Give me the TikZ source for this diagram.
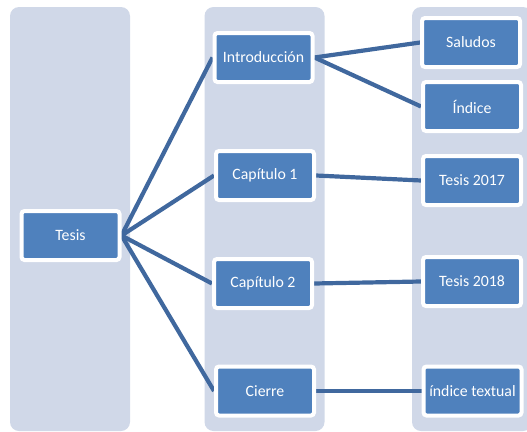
\documentclass[tikz,border=0pt]{standalone}
\usepackage{fontspec}
\setmainfont{Carlito}
\usepackage{tikz}
\pgfdeclarelayer{bglayer}
\pgfdeclarelayer{edgelayer}
\pgfdeclarelayer{nodelayer}
\pgfsetlayers{bglayer,edgelayer,nodelayer,main}
\definecolor{ColBg}{RGB}{208,216,232}
\definecolor{BoxBlue}{RGB}{79,129,189}
\definecolor{LineBlue}{RGB}{64,104,158}
\tikzstyle{col}=[rectangle,rounded corners=9pt,fill=ColBg,minimum width=120pt,minimum height=424pt,inner sep=0pt]
\tikzstyle{box}=[rectangle,rounded corners=3pt,fill=BoxBlue,draw=white,line width=4pt,minimum width=98pt,minimum height=49pt,inner sep=0pt,text=white,font=\fontsize{15.8}{18}\selectfont]
\tikzstyle{simple}=[-,draw=LineBlue,line width=4.2pt]

\begin{document}
\begin{tikzpicture}[x=1pt,y=-1pt]
	\useasboundingbox (0,0) rectangle (527,431);
	\begin{pgfonlayer}{bglayer}
		\clip (0,0) rectangle (527,431);
		\node [style=col] (c0) at (70, 219) {};
		\node [style=col] (c1) at (264.5, 219) {};
		\node [style=col] (c2) at (472, 219) {};
	\end{pgfonlayer}
	\begin{pgfonlayer}{nodelayer}
		\node [style=box] (0) at (70.5, 235.5) {Tesis};
		\node [style=box] (1) at (263.5, 57.5) {Introducción};
		\node [style=box] (2) at (265, 175.5) {Capítulo 1};
		\node [style=box] (3) at (263, 283.5) {Capítulo 2};
		\node [style=box] (4) at (265, 391) {Cierre};
		\node [style=box] (5) at (471, 42.5) {Saludos};
		\node [style=box] (6) at (472, 106.5) {Índice};
		\node [style=box] (7) at (472, 180.5) {Tesis 2017};
		\node [style=box] (8) at (472, 281.5) {Tesis 2018};
		\node [style=box] (9) at (472.5, 391) {índice textual};
	\end{pgfonlayer}
	\begin{pgfonlayer}{edgelayer}
		\draw [style=simple] (0.east) to (1.west);
		\draw [style=simple] (0.east) to (2.west);
		\draw [style=simple] (0.east) to (3.west);
		\draw [style=simple] (0.east) to (4.west);
		\draw [style=simple] (1.east) to (5.west);
		\draw [style=simple] (1.east) to (6.west);
		\draw [style=simple] (2.east) to (7.west);
		\draw [style=simple] (3.east) to (8.west);
		\draw [style=simple] (4.east) to (9.west);
	\end{pgfonlayer}
\end{tikzpicture}
\end{document}
